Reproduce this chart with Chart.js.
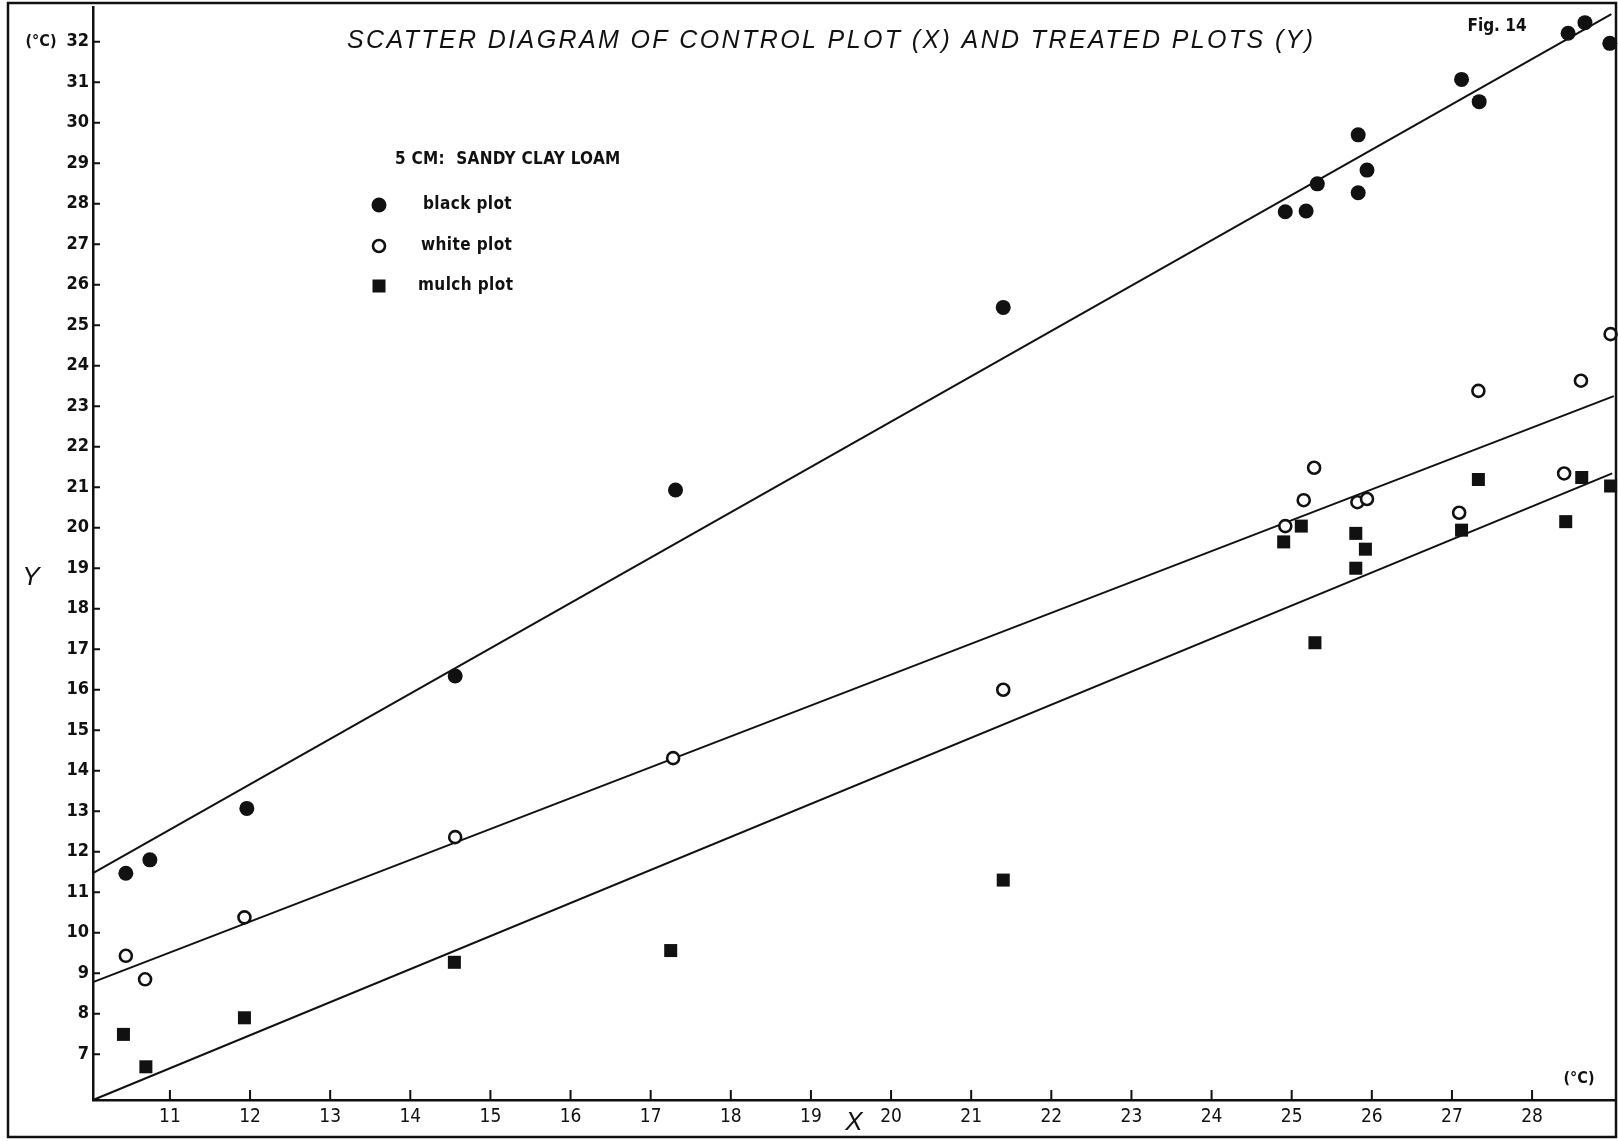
<!DOCTYPE html>
<html>
<head>
<meta charset="utf-8">
<script src="https://cdn.jsdelivr.net/npm/chart.js@4.4.1/dist/chart.umd.min.js"></script>
<style>
  html, body { margin: 0; padding: 0; background: #fff; }
</style>
</head>
<body>
<canvas id="chart" width="1618" height="1141"></canvas>
<script>
// control plot (X) vs treated plots (Y), degrees C
const blackX = [10.45, 10.75, 11.96, 14.56, 17.31, 21.40, 24.92, 25.18, 25.32, 25.83, 25.94, 25.83, 27.12, 27.34, 28.45, 28.66, 28.97];
const blackY = [11.47, 11.80, 13.07, 16.34, 20.93, 25.44, 27.80, 27.82, 28.49, 28.27, 28.83, 29.70, 31.07, 30.52, 32.21, 32.47, 31.96];

const whiteX = [10.45, 10.69, 11.93, 14.56, 17.28, 21.40, 24.92, 25.15, 25.28, 25.82, 25.94, 27.09, 27.33, 28.40, 28.61, 28.98];
const whiteY = [9.43, 8.85, 10.38, 12.36, 14.31, 16.00, 20.04, 20.68, 21.48, 20.63, 20.71, 20.37, 23.38, 21.34, 23.63, 24.78];

const mulchX = [10.42, 10.70, 11.93, 14.55, 17.25, 21.40, 24.90, 25.12, 25.29, 25.80, 25.92, 25.80, 27.12, 27.33, 28.42, 28.62, 28.98];
const mulchY = [7.49, 6.69, 7.90, 9.27, 9.56, 11.30, 19.65, 20.04, 17.16, 19.86, 19.47, 19.00, 19.94, 21.19, 20.15, 21.24, 21.03];

// fitted lines, end points
const blackFitX = [10.04, 28.99];
const blackFitY = [11.47, 32.68];
const whiteFitX = [10.04, 29.02];
const whiteFitY = [8.78, 23.25];
const mulchFitX = [10.04, 29.00];
const mulchFitY = [5.87, 21.34];

const xTicks = [11, 12, 13, 14, 15, 16, 17, 18, 19, 20, 21, 22, 23, 24, 25, 26, 27, 28];
const yTicks = [7, 8, 9, 10, 11, 12, 13, 14, 15, 16, 17, 18, 19, 20, 21, 22, 23, 24, 25, 26, 27, 28, 29, 30, 31, 32];

const seriesNames = ['black plot', 'white plot', 'mulch plot'];

const toPoints = (xs, ys) => xs.map((x, i) => ({ x: x, y: ys[i] }));

const narrow = "'Liberation Sans Narrow', 'DejaVu Sans Condensed', 'Liberation Sans', sans-serif";
const plain = "'Liberation Sans', Arial, sans-serif";

const ink = '#111';

const pointSets = [
  { label: seriesNames[0], data: toPoints(blackX, blackY), pointStyle: 'circle', pointRadius: 7.5,
    pointBackgroundColor: ink, pointBorderColor: ink, pointBorderWidth: 0 },
  { label: seriesNames[1], data: toPoints(whiteX, whiteY), pointStyle: 'circle', pointRadius: 6,
    pointBackgroundColor: '#fff', pointBorderColor: ink, pointBorderWidth: 2.6 },
  { label: seriesNames[2], data: toPoints(mulchX, mulchY), pointStyle: 'rect', pointRadius: 9.2,
    pointBackgroundColor: ink, pointBorderColor: ink, pointBorderWidth: 0 }
].map(d => Object.assign(d, { showLine: false, clip: false, pointHoverRadius: d.pointRadius }));

const fitLines = [
  [blackFitX, blackFitY], [whiteFitX, whiteFitY], [mulchFitX, mulchFitY]
].map(([xs, ys], i) => ({
  label: seriesNames[i] + ' fit',
  data: toPoints(xs, ys),
  showLine: true,
  borderColor: ink,
  borderWidth: 2,
  pointRadius: 0,
  pointHoverRadius: 0,
  clip: false
}));

const decor = {
  id: 'decor',
  afterDraw(chart) {
    const ctx = chart.ctx;
    const xs = chart.scales.x, ys = chart.scales.y;
    const area = chart.chartArea;
    ctx.save();

    // inward tick marks
    ctx.strokeStyle = ink;
    ctx.lineWidth = 2;
    ctx.beginPath();
    xTicks.forEach(v => {
      const px = xs.getPixelForValue(v);
      ctx.moveTo(px, area.bottom);
      ctx.lineTo(px, area.bottom - 10);
    });
    yTicks.forEach(v => {
      const py = ys.getPixelForValue(v);
      ctx.moveTo(area.left, py);
      ctx.lineTo(area.left + 7, py);
    });
    ctx.stroke();

    // outer frame
    ctx.lineWidth = 2.5;
    ctx.strokeRect(8, 3, 1608, 1134);

    // title
    const title = 'SCATTER DIAGRAM OF CONTROL PLOT (X) AND TREATED PLOTS (Y)';
    ctx.fillStyle = ink;
    ctx.font = 'italic 25px ' + plain;
    ctx.textBaseline = 'middle';
    ctx.textAlign = 'left';
    ctx.letterSpacing = '0px';
    const natural = ctx.measureText(title).width;
    const spacing = (966 - natural) / (title.length - 1);
    ctx.letterSpacing = spacing + 'px';
    ctx.fillText(title, 347, 41);
    ctx.letterSpacing = '0px';

    ctx.font = 'bold 17px ' + narrow;
    ctx.textAlign = 'center';
    ctx.fillText('Fig. 14', 1497, 27);

    // units and axis letters
    ctx.font = 'bold 16px ' + narrow;
    ctx.fillText('(\u00B0C)', 41, 42);
    ctx.fillText('(\u00B0C)', 1579, 1079);

    ctx.font = 'italic 26px ' + plain;
    ctx.fillText('Y', 31, 578);
    ctx.fillText('X', 854, 1123);

    // legend block
    ctx.font = 'bold 17px ' + narrow;
    ctx.textAlign = 'left';
    ctx.letterSpacing = '0.3px';
    ctx.fillText('5 CM:  SANDY CLAY LOAM', 395, 160);
    const rows = [205, 246, 286];
    const labelX = [423, 421, 418];
    ctx.letterSpacing = '0.4px';
    pointSets.forEach((d, i) => {
      ctx.fillStyle = d.pointBackgroundColor;
      ctx.strokeStyle = d.pointBorderColor;
      ctx.lineWidth = d.pointBorderWidth;
      Chart.helpers.drawPoint(ctx, {
        pointStyle: d.pointStyle,
        radius: d.pointRadius,
        borderWidth: d.pointBorderWidth,
        rotation: 0
      }, 379, rows[i]);
      ctx.fillStyle = ink;
      ctx.fillText(d.label, labelX[i], rows[i]);
    });
    ctx.restore();
  }
};

new Chart(document.getElementById('chart').getContext('2d'), {
  type: 'scatter',
  data: { datasets: pointSets.concat(fitLines) },
  options: {
    responsive: false,
    animation: false,
    events: [],
    layout: { autoPadding: false, padding: { left: 0, top: 7, right: 3, bottom: 0 } },
    plugins: {
      legend: { display: false },
      tooltip: { enabled: false },
      title: { display: false }
    },
    scales: {
      x: {
        type: 'linear',
        min: 10.04,
        max: 29.035,
        afterFit: s => { s.height = 41; s.paddingLeft = 0; s.paddingRight = 0; },
        afterBuildTicks: s => { s.ticks = xTicks.map(v => ({ value: v })); },
        grid: { display: true, drawOnChartArea: false, drawTicks: false },
        border: { display: true, color: ink, width: 2.5 },
        ticks: {
          color: ink,
          padding: 6,
          maxRotation: 0,
          autoSkip: false,
          font: { family: narrow, size: 19 }
        }
      },
      y: {
        type: 'linear',
        min: 5.87,
        max: 32.857,
        afterFit: s => { s.width = 93; s.paddingTop = 0; s.paddingBottom = 0; },
        afterBuildTicks: s => { s.ticks = yTicks.map(v => ({ value: v })); },
        grid: { display: true, drawOnChartArea: false, drawTicks: false },
        border: { display: true, color: ink, width: 2.5 },
        ticks: {
          color: ink,
          padding: 4,
          autoSkip: false,
          font: { family: narrow, size: 18, weight: 'bold' }
        }
      }
    }
  },
  plugins: [decor]
});
</script>
</body>
</html>
